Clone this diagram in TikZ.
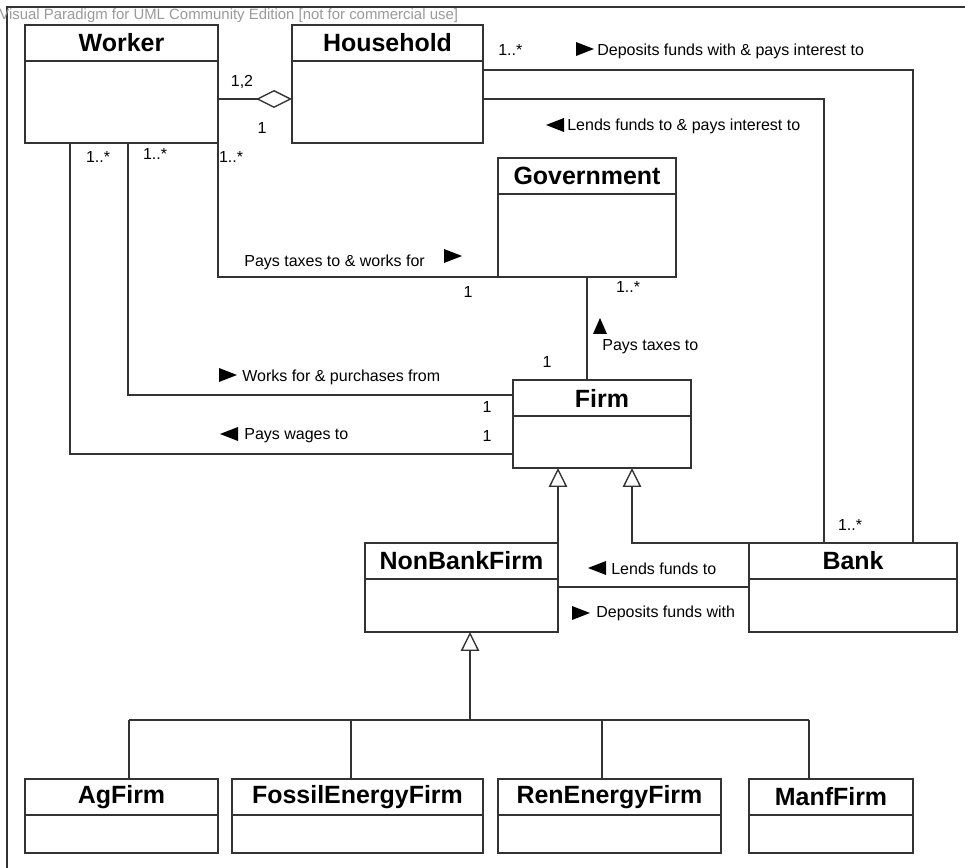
\documentclass[tikz,border=0pt]{standalone}
\usepackage{fontspec}
\setmainfont{Liberation Sans}
\usepackage{tikz}
\usetikzlibrary{arrows.meta, positioning}
\definecolor{lineclr}{HTML}{333333}
\definecolor{wmclr}{HTML}{9A9A9A}
\newcommand\umlclass[6]{% name, title, left, top, right, bottom
  \node[classbox, minimum width={(#5-#3)*0.02cm}, minimum height={(#6-#4)*0.02cm}] (#1) at ({(#3+#5)/2},{(#4+#6)/2}) {};
  \node[classhead, minimum width={(#5-#3)*0.02cm}, anchor=north] (#1-head) at (#1.north) {#2};
  \draw[umlline] (#1-head.south west) -- (#1-head.south east);
}

\begin{document}
\begin{tikzpicture}[x=0.02cm, y=-0.02cm,
    umlline/.style={draw=lineclr, line width=0.8pt},
    classbox/.style={umlline, rectangle, inner sep=0pt, outer sep=0pt},
    classhead/.style={inner sep=0pt, outer sep=0pt, minimum height=0.72cm, font=\bfseries\fontsize{14.2}{16}\selectfont},
    lbl/.style={anchor=west, inner sep=0pt, font=\fontsize{9.1}{11}\selectfont},
    mult/.style={inner sep=0pt, font=\fontsize{9.1}{11}\selectfont},
    aggr/.style={umlline, -{Diamond[open, length=0.72cm, width=0.36cm]}},
    inherit/.style={umlline, -{Triangle[open, length=0.38cm, width=0.37cm]}},
    rtri/.pic={\fill[black] (-9,-7) -- (9,0) -- (-9,7) -- cycle;},
    ltri/.pic={\fill[black] (9,-7) -- (-9,0) -- (9,7) -- cycle;},
    utri/.pic={\fill[black] (-7,8) -- (0,-8) -- (7,8) -- cycle;}]
  \useasboundingbox (0,0) rectangle (965,868);
  \fill[white] (0,0) rectangle (965,868);
  \draw[umlline] (7,868) -- (7,7) -- (965,7);
  \node[anchor=west, inner sep=0pt, text=wmclr, font=\fontsize{8.5}{10}\selectfont] (wm) at (-1,16) {Visual Paradigm for UML Community Edition [not for commercial use]};

  % classes
  \umlclass{worker}{Worker}{25}{25}{218}{143}
  \umlclass{household}{Household}{292}{25}{483}{143}
  \umlclass{government}{Government}{498}{158}{676}{277}
  \umlclass{firm}{Firm}{513}{380}{691}{468}
  \umlclass{nonbank}{NonBankFirm}{365}{543}{558}{632}
  \umlclass{bank}{Bank}{749}{543}{957}{632}
  \umlclass{agfirm}{AgFirm}{25}{779}{218}{853}
  \umlclass{fossil}{FossilEnergyFirm}{232}{779}{483}{853}
  \umlclass{renfirm}{RenEnergyFirm}{498}{779}{721}{853}
  \umlclass{manf}{ManfFirm}{749}{779}{913}{853}

  % route helpers
  \coordinate (yagg) at (0,99);
  \coordinate (ydep) at (0,70);
  \coordinate (xdep) at (913,0);
  \coordinate (ylend) at (0,99);
  \coordinate (xlend) at (824,0);
  \coordinate (xbuy) at (128,0);
  \coordinate (ybuy) at (0,395);
  \coordinate (xwage) at (70,0);
  \coordinate (ywage) at (0,454);
  \coordinate (xbk) at (632,0);
  \coordinate (ynb) at (0,587);
  \coordinate (fork) at (470,720);

  % associations
  \draw[aggr] (worker.east |- yagg) -- (household.west |- yagg);
  \draw[umlline] (household.east |- ydep) -| (bank.north -| xdep);
  \draw[umlline] (household.east |- ylend) -| (bank.north -| xlend);
  \draw[umlline] (worker.south east) |- (government.south west);
  \draw[umlline] (worker.south -| xbuy) |- (firm.west |- ybuy);
  \draw[umlline] (worker.south -| xwage) |- (firm.west |- ywage);
  \draw[umlline] (government.south) -- (government.south |- firm.north);
  \draw[umlline] (nonbank.east |- ynb) -- (bank.west |- ynb);

  % generalisations
  \draw[inherit] (nonbank.north east) -- (nonbank.north east |- firm.south);
  \draw[inherit] (bank.north west) -| (firm.south -| xbk);
  \draw[inherit] (fork) -- (nonbank.south -| fork);
  \foreach \c/\x in {agfirm/129, fossil/351, renfirm/602, manf/809}{
    \coordinate (drop\c) at (\x,720);
    \draw[umlline] (drop\c) -- (\c.north -| drop\c);
  }
  \draw[umlline] (dropagfirm) -- (dropmanf);

  % multiplicities and labels
  \node[mult] (m-wh1) at (242,82) {1,2};
  \node[mult] (m-wh2) at (262,128) {1};
  \node[mult, anchor=west] (m-hb) at (498,50) {1..*};
  \pic at (585,49) {rtri};
  \node[lbl] (l-dep) at (597,51) {Deposits funds with \& pays interest to};
  \pic at (555,125) {ltri};
  \node[lbl] (l-lend) at (567,126) {Lends funds to \& pays interest to};
  \node[mult] (m-w1) at (98,157) {1..*};
  \node[mult] (m-w2) at (155,154) {1..*};
  \node[mult] (m-w3) at (231,157) {1..*};
  \node[lbl] (l-tax) at (244,262) {Pays taxes to \& works for};
  \pic at (453,256) {rtri};
  \node[mult] (m-g1) at (468,292) {1};
  \node[mult] (m-g2) at (628,287) {1..*};
  \pic at (600,326) {utri};
  \node[lbl] (l-ftax) at (602,347) {Pays taxes to};
  \node[mult] (m-f0) at (547,362) {1};
  \pic at (228,375) {rtri};
  \node[lbl] (l-buy) at (242,377) {Works for \& purchases from};
  \node[mult] (m-f1) at (487,407) {1};
  \pic at (229,434) {ltri};
  \node[lbl] (l-wage) at (244,436) {Pays wages to};
  \node[mult] (m-f2) at (487,436) {1};
  \pic at (597,568) {ltri};
  \node[lbl] (l-nbl) at (611,569) {Lends funds to};
  \pic at (581,613) {rtri};
  \node[lbl] (l-nbd) at (596,613) {Deposits funds with};
  \node[mult] (m-b) at (850,525) {1..*};
\end{tikzpicture}
\end{document}
